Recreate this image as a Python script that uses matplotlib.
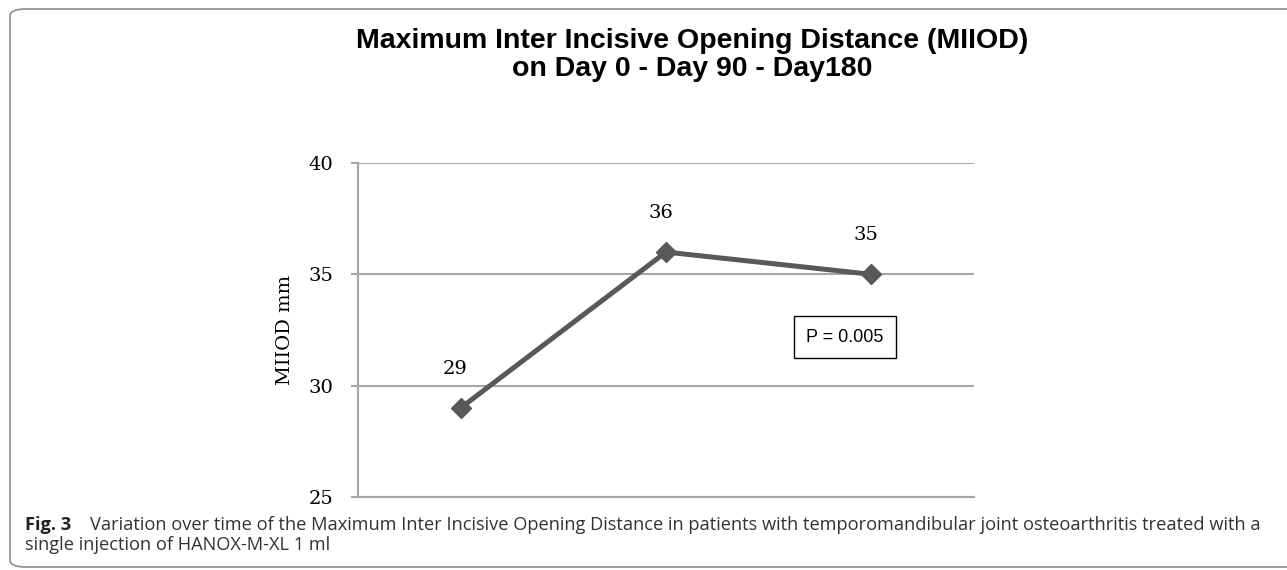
import matplotlib.pyplot as plt
from matplotlib.patches import FancyBboxPatch

# dati
days = ['Day 0', 'Day 90', 'Day 180']
miiod = [29, 36, 35]
y_ticks = [25, 30, 35, 40]
p_text = 'P = 0.005'

title = 'Maximum Inter Incisive Opening Distance (MIIOD)\non Day 0 - Day 90 - Day180'
caption_bold = 'Fig. 3'
caption_1 = ('Variation over time of the Maximum Inter Incisive Opening Distance in patients '
             'with temporomandibular joint osteoarthritis treated with a')
caption_2 = 'single injection of HANOX-M-XL 1 ml'

W, H = 1287, 570
fig = plt.figure(figsize=(W / 100, H / 100), dpi=100)

# area del grafico (in pixel del riferimento)
left, right, top, bottom = 358, 974, 163, 497
ax = fig.add_axes([left / W, 1 - bottom / H, (right - left) / W, (bottom - top) / H])

x = [i + 0.5 for i in range(len(days))]
ax.plot(x, miiod, color='#595959', linewidth=3.6, marker='D', markersize=10,
        markerfacecolor='#595959', markeredgecolor='#595959', zorder=3)

for xi, v in zip(x, miiod):
    ax.annotate(str(v), (xi, v), xytext=(-4, 28), textcoords='offset points',
                ha='center', va='center', fontsize=14, family='DejaVu Serif')

ax.set_xlim(0, len(days))
ax.set_ylim(y_ticks[0], y_ticks[-1])
ax.set_yticks(y_ticks)
ax.set_xticks([])
ax.yaxis.grid(True, color='#a6a6a6', linewidth=1.5)
ax.set_axisbelow(True)
for s in ['top', 'right']:
    ax.spines[s].set_visible(False)
for s in ['left', 'bottom']:
    ax.spines[s].set_color('#a6a6a6')
    ax.spines[s].set_linewidth(1.5)
ax.tick_params(axis='y', length=5, color='#a6a6a6', width=1.5, labelsize=14, pad=13)
for lbl in ax.get_yticklabels():
    lbl.set_family('DejaVu Serif')
ax.set_ylabel('MIIOD mm', fontsize=14, family='DejaVu Serif', labelpad=10)

ax.text(845 / W, 1 - 337 / H, p_text, transform=fig.transFigure, ha='center', va='center',
        fontsize=13, family='Liberation Sans',
        bbox=dict(boxstyle='square,pad=0.7', facecolor='white', edgecolor='black', linewidth=1))

fig.text(692 / W, 1 - 55 / H, title, ha='center', va='center', fontsize=20.5,
         fontweight='bold', family='Liberation Sans', linespacing=1.15)

fig.text(25 / W, 1 - 525 / H, caption_bold, ha='left', va='center', fontsize=13.15,
         fontweight='bold', family='Open Sans', color='#222222')
fig.text(90 / W, 1 - 525 / H, caption_1, ha='left', va='center', fontsize=13.15,
         family='Open Sans', color='#333333')
fig.text(25 / W, 1 - 545 / H, caption_2, ha='left', va='center', fontsize=13.15,
         family='Open Sans', color='#333333')

# cornice arrotondata
frame = FancyBboxPatch((10 / W, 1 - 567 / H), 1.05, (567 - 9) / H,
                       boxstyle='round,pad=0,rounding_size=0.012',
                       transform=fig.transFigure, facecolor='none',
                       edgecolor='#8c8c8c', linewidth=1.2)
fig.patches.append(frame)

fig.savefig('out.png', dpi=100)
